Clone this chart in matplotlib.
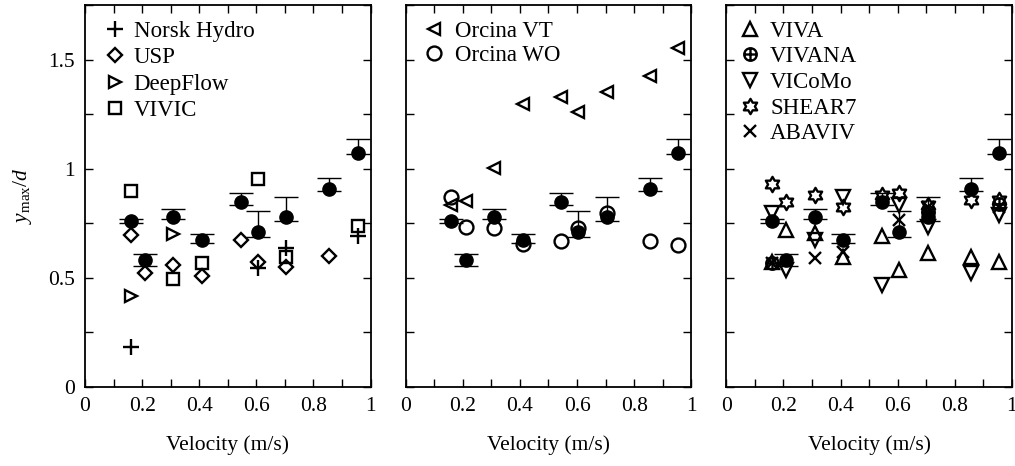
import numpy as np
import matplotlib
matplotlib.use("Agg")
import matplotlib.pyplot as plt
from matplotlib.path import Path
from matplotlib.ticker import MultipleLocator, FuncFormatter

plt.rcParams["font.family"] = ["Liberation Serif", "DejaVu Serif"]
plt.rcParams["mathtext.fontset"] = "custom"
plt.rcParams["mathtext.rm"] = "Liberation Serif"
plt.rcParams["mathtext.it"] = "Liberation Serif:italic"

TICK_SIZE = 15.5
LABEL_SIZE = 15.5
LEGEND_SIZE = 16.5

# measured response: mean with min / max bars
VELOCITY = [0.16, 0.21, 0.31, 0.41, 0.545, 0.605, 0.705, 0.855, 0.955]
EXP_MEAN = [0.760, 0.583, 0.781, 0.674, 0.847, 0.712, 0.781, 0.909, 1.071]
EXP_LOW = [0.753, 0.556, 0.769, 0.658, 0.835, 0.688, 0.763, 0.900, 1.068]
EXP_HIGH = [0.769, 0.610, 0.818, 0.699, 0.890, 0.806, 0.870, 0.958, 1.135]

# panel 1
NORSK_V = [0.16, 0.605, 0.705, 0.955]
NORSK_Y = [0.182, 0.545, 0.636, 0.690]
USP_V = [0.16, 0.21, 0.31, 0.41, 0.545, 0.605, 0.705, 0.855]
USP_Y = [0.697, 0.522, 0.560, 0.508, 0.674, 0.573, 0.552, 0.601]
DEEPFLOW_V = [0.16, 0.31]
DEEPFLOW_Y = [0.418, 0.700]
VIVIC_V = [0.16, 0.31, 0.41, 0.605, 0.705, 0.955]
VIVIC_Y = [0.896, 0.493, 0.566, 0.952, 0.595, 0.739]

# panel 2
ORCINA_VT_Y = [0.832, 0.853, 1.003, 1.298, 1.327, 1.258, 1.350, 1.424, 1.553]
ORCINA_WO_Y = [0.870, 0.735, 0.729, 0.654, 0.667, 0.728, 0.797, 0.667, 0.651]

# panel 3
VIVA_Y = [0.575, 0.720, 0.705, 0.598, 0.693, 0.537, 0.616, 0.598, 0.575]
VIVANA_V = [0.16, 0.705, 0.955]
VIVANA_Y = [0.570, 0.800, 0.840]
VICOMO_Y = [0.797, 0.537, 0.674, 0.873, 0.468, 0.835, 0.735, 0.521, 0.789]
SHEAR7_Y = [0.931, 0.846, 0.881, 0.827, 0.881, 0.888, 0.835, 0.858, 0.858]
ABAVIV_V = [0.16, 0.31, 0.41, 0.605, 0.705, 0.955]
ABAVIV_Y = [0.567, 0.590, 0.620, 0.766, 0.827, 0.827]


def hexagram_marker():
    verts = []
    for k in range(6):
        a_out = np.deg2rad(90 + 60 * k)
        a_in = np.deg2rad(120 + 60 * k)
        verts.append((np.cos(a_out), np.sin(a_out)))
        verts.append((np.cos(a_in) / np.sqrt(3), np.sin(a_in) / np.sqrt(3)))
    verts.append(verts[0])
    codes = [Path.MOVETO] + [Path.LINETO] * 11 + [Path.CLOSEPOLY]
    return Path(verts, codes)


def circle_plus_marker():
    return Path.make_compound_path(
        Path.unit_circle(),
        Path([(-1, 0), (1, 0)], [Path.MOVETO, Path.LINETO]),
        Path([(0, -1), (0, 1)], [Path.MOVETO, Path.LINETO]),
    )


def style_axes(ax, show_ylabels):
    ax.set_xlim(0, 1)
    ax.set_ylim(0, 1.75)
    ax.xaxis.set_major_locator(MultipleLocator(0.2))
    ax.xaxis.set_minor_locator(MultipleLocator(0.1))
    ax.yaxis.set_major_locator(MultipleLocator(0.5))
    ax.yaxis.set_minor_locator(MultipleLocator(0.25))
    fmt = FuncFormatter(lambda v, p: f"{v:g}")
    ax.xaxis.set_major_formatter(fmt)
    ax.yaxis.set_major_formatter(fmt)
    ax.tick_params(which="both", direction="in", top=True, right=True,
                   labelsize=TICK_SIZE, width=1.0, pad=7, length=6)
    if not show_ylabels:
        ax.tick_params(labelleft=False)
    for s in ax.spines.values():
        s.set_linewidth(1.3)
    ax.set_xlabel("Velocity (m/s)", fontsize=LABEL_SIZE, labelpad=14)


def plot_experiment(ax):
    mean = np.array(EXP_MEAN)
    yerr = [mean - np.array(EXP_LOW), np.array(EXP_HIGH) - mean]
    ax.errorbar(VELOCITY, mean, yerr=yerr, fmt="o", color="black", ms=9.5,
                elinewidth=1.0, capsize=8.5, capthick=1.0, zorder=2)


def add_legend(ax, x0, textpad, spacing):
    ax.legend(loc="upper left", bbox_to_anchor=(x0, 0.959), frameon=False,
              fontsize=LEGEND_SIZE, handlelength=0.8, handletextpad=textpad,
              labelspacing=spacing, borderaxespad=0.0, borderpad=0.0)


open_kw = dict(linestyle="none", color="black", mfc="none", mew=1.7, zorder=3)

fig, axes = plt.subplots(1, 3, figsize=(10.15, 4.66), dpi=100)
fig.subplots_adjust(left=0.0837, right=0.997, bottom=0.1695, top=0.989, wspace=0.123)

# panel 1
ax = axes[0]
plot_experiment(ax)
ax.plot(NORSK_V, NORSK_Y, marker="+", ms=11, label="Norsk Hydro", **open_kw)
ax.plot(USP_V, USP_Y, marker="D", ms=7.5, label="USP", **open_kw)
ax.plot(DEEPFLOW_V, DEEPFLOW_Y, marker=">", ms=9, label="DeepFlow", **open_kw)
ax.plot(VIVIC_V, VIVIC_Y, marker="s", ms=9, label="VIVIC", **open_kw)
style_axes(ax, True)
ax.set_ylabel(r"$y_{\rm max}/d$", fontsize=LABEL_SIZE, labelpad=10)
add_legend(ax, 0.074, 0.4, 0.24)

# panel 2
ax = axes[1]
plot_experiment(ax)
ax.plot(VELOCITY, ORCINA_VT_Y, marker="<", ms=9, label="Orcina VT", **open_kw)
ax.plot(VELOCITY, ORCINA_WO_Y, marker="o", ms=10, label="Orcina WO", **open_kw)
style_axes(ax, False)
add_legend(ax, 0.067, 0.5, 0.12)

# panel 3
ax = axes[2]
plot_experiment(ax)
ax.plot(VELOCITY, VIVA_Y, marker="^", ms=9.5, label="VIVA", **open_kw)
ax.plot(VIVANA_V, VIVANA_Y, marker=circle_plus_marker(), ms=9, label="VIVANA", **open_kw)
ax.plot(VELOCITY, VICOMO_Y, marker="v", ms=9.5, label="VICoMo", **open_kw)
ax.plot(VELOCITY, SHEAR7_Y, marker=hexagram_marker(), ms=11, label="SHEAR7", **open_kw)
ax.plot(ABAVIV_V, ABAVIV_Y, marker="x", ms=9, label="ABAVIV", **open_kw)
style_axes(ax, False)
add_legend(ax, 0.049, 0.5, 0.2)

fig.savefig("out.png", dpi=100)
